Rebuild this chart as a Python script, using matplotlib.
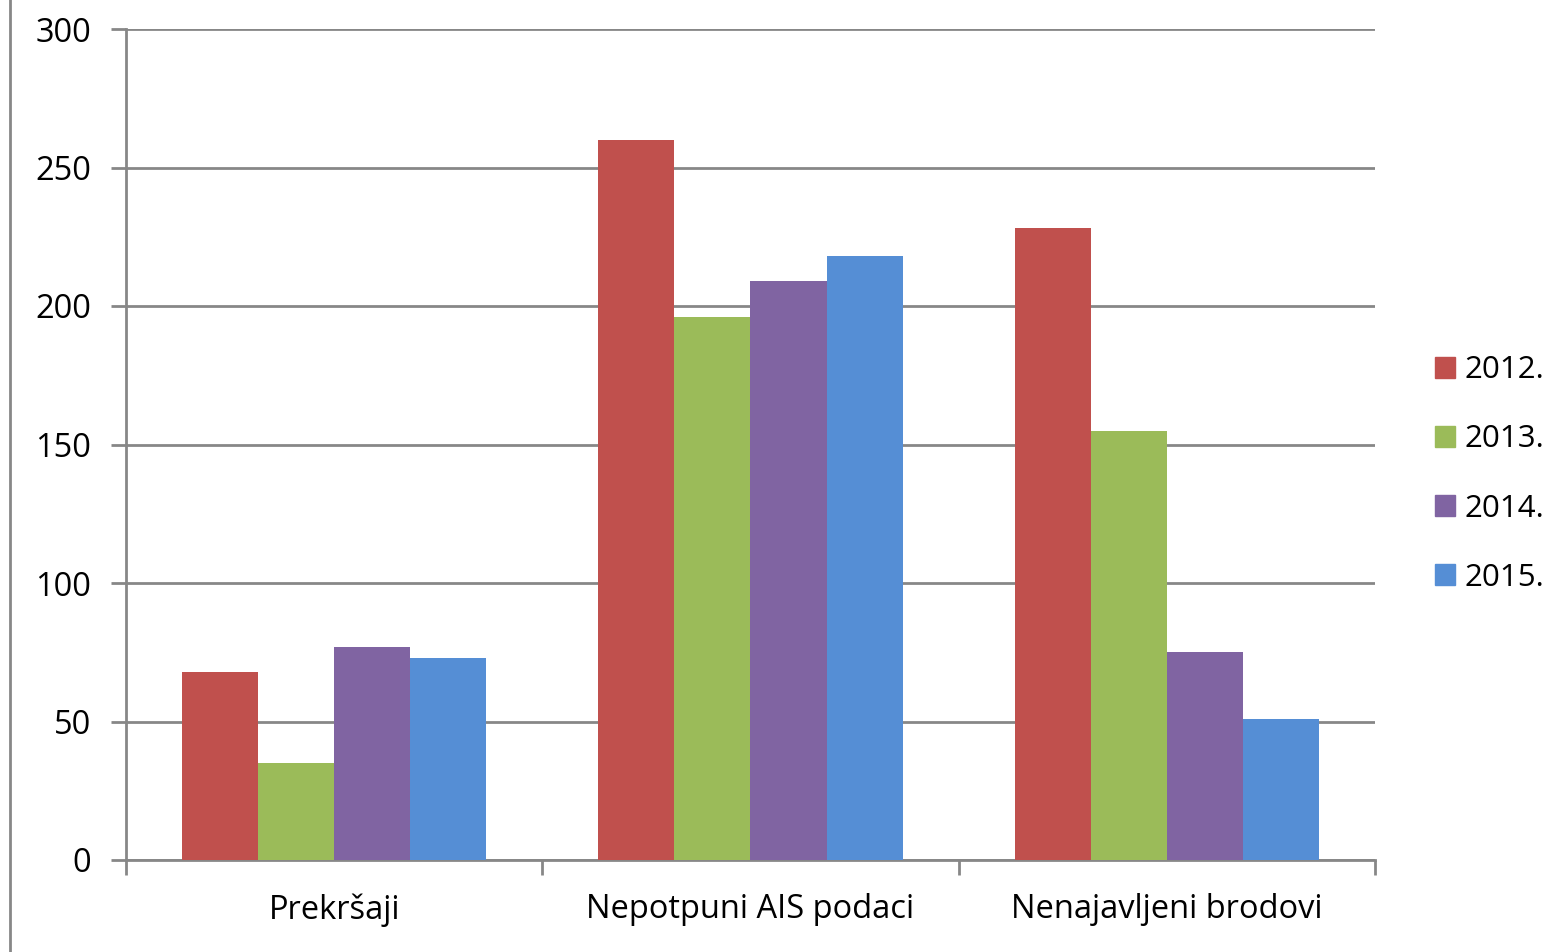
import numpy as np
import matplotlib.pyplot as plt
from matplotlib.lines import Line2D
from matplotlib.patches import Patch

categories = ['Prekršaji', 'Nepotpuni AIS podaci', 'Nenajavljeni brodovi']
years = ['2012.', '2013.', '2014.', '2015.']
v2012 = [68, 260, 228]
v2013 = [35, 196, 155]
v2014 = [77, 209, 75]
v2015 = [73, 218, 51]
colors = ['#C0504D', '#9BBB59', '#8064A2', '#558ED5']

plt.rcParams['font.family'] = ['Open Sans', 'DejaVu Sans']
grid_color = '#878787'
fs = 23.5

fig = plt.figure(figsize=(15.53, 9.52), dpi=100)
ax = fig.add_axes([126 / 1553, 92 / 952, 1249 / 1553, 831 / 952])

x = np.arange(len(categories))
w = 76 / 416
series = [v2012, v2013, v2014, v2015]
for i, vals in enumerate(series):
    ax.bar(x + (i - 1.5) * w, vals, w, color=colors[i], zorder=3)

ax.set_xlim(-0.5, 2.5)
ax.set_ylim(0, 300)
ax.set_yticks(range(0, 301, 50))
ax.yaxis.grid(True, color=grid_color, linewidth=2)
ax.set_axisbelow(True)
for s in ['top', 'right']:
    ax.spines[s].set_visible(False)
for s in ['left', 'bottom']:
    ax.spines[s].set_color(grid_color)
    ax.spines[s].set_linewidth(2)

ax.set_xticks([-0.5, 0.5, 1.5, 2.5])
ax.set_xticklabels([])
ax.set_xticks(x, minor=True)
ax.set_xticklabels(categories, minor=True)
ax.tick_params(axis='x', which='major', length=11, width=2, color=grid_color)
ax.tick_params(axis='x', which='minor', length=0, pad=24, labelsize=fs)
ax.tick_params(axis='y', length=11, width=2, color=grid_color, labelsize=fs, pad=14)

# legend sits close to the right edge, like the original
handles = [Patch(color=c) for c in colors]
fig.legend(handles, years, loc='center left', bbox_to_anchor=(1422 / 1553, 478 / 952),
           frameon=False, fontsize=22.5, handlelength=0.65, handleheight=0.65,
           handletextpad=0.3, labelspacing=1.25, borderaxespad=0)

fig.add_artist(Line2D([10 / 1553, 10 / 1553], [0, 1], color=grid_color, linewidth=2))

plt.savefig('out.png', dpi=100)
